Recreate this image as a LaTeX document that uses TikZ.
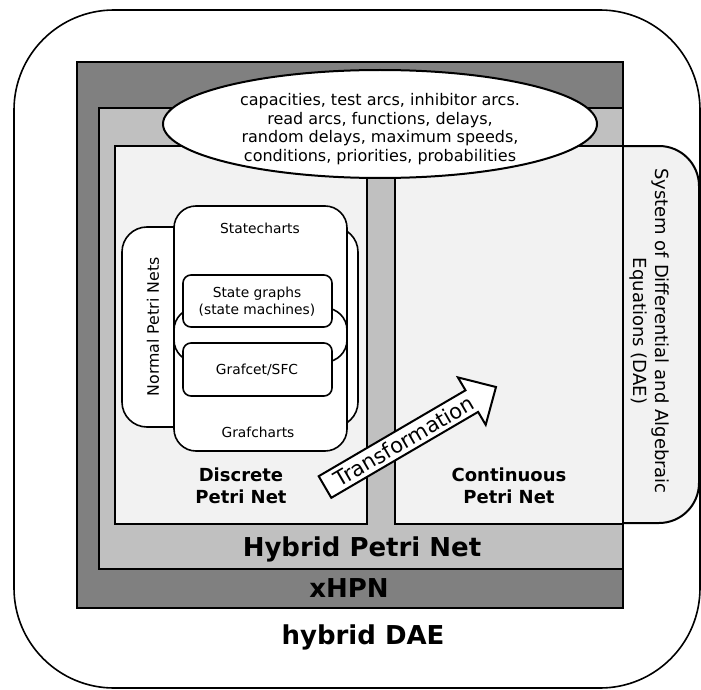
\documentclass[tikz,border=0pt]{standalone}
\usepackage{fontspec}
\setmainfont{DejaVu Sans}
\usetikzlibrary{shapes.geometric}
\definecolor{darkband}{HTML}{808080}
\definecolor{midband}{HTML}{C0C0C0}
\definecolor{paleband}{HTML}{F2F2F2}
\tikzset{
  frame/.style={draw=black, line width=2pt},
  band/.style={frame, line join=miter},
  setbox/.style={draw=black, line width=1.6pt, fill=white},
  biglabel/.style={font=\bfseries\fontsize{26}{30}\selectfont, inner sep=0pt},
  netlabel/.style={font=\bfseries\fontsize{18}{22}\selectfont, align=center, inner sep=0pt},
  small/.style={font=\fontsize{13.8}{17}\selectfont, align=center, inner sep=0pt},
}
\begin{document}
\begin{tikzpicture}[x=1pt, y=-1pt]
\useasboundingbox (0,0) rectangle (701,690);

% outermost hybrid DAE frame
\draw[line width=1.6pt, rounded corners=100pt] (14,10) rectangle (700,688);
\node[biglabel] (hdae) at (363,637) {hybrid DAE};

% xHPN and Hybrid Petri Net bands
\fill[darkband] (77,62) rectangle (623,608);
\draw[band] (77,62) rectangle (623,608);
\fill[midband] (99,108) rectangle (623,569);
\draw[band] (99,108) rectangle (623,569);
\node[biglabel] (xhpn) at (349,588) {xHPN};
\node[biglabel] (hpn) at (362,549) {Hybrid Petri Net};

% DAE system box behind the continuous net
\draw[frame, fill=paleband, rounded corners=40pt]
  (560,146) -- (699,146) -- (699,523) -- (560,523);
\node[font=\fontsize{18}{22}\selectfont, align=center, rotate=-90, inner sep=0pt]
  (dae) at (649,331) {System of Differential and Algebraic\\Equations (DAE)};

% discrete and continuous nets
\draw[frame, fill=paleband] (115,146) rectangle (367,524);
\draw[frame, fill=paleband] (395,146) rectangle (623,524);
\node[netlabel] (disc) at (241,486) {Discrete\\Petri Net};
\node[netlabel] (cont) at (509,486) {Continuous\\Petri Net};

% extensions ellipse
\node[ellipse, draw=black, line width=2pt, fill=white,
      minimum width=434pt, minimum height=108pt, inner sep=0pt] (ext) at (380,124) {};
\node[font=\fontsize{16}{18.5}\selectfont, align=center, inner sep=0pt] (exttext) at (380,129)
  {capacities, test arcs, inhibitor arcs.\\read arcs, functions, delays,\\random delays, maximum speeds,\\conditions, priorities, probabilities};

% nested model classes
\draw[setbox, rounded corners=25pt] (122,227) rectangle (358,427);
\node[font=\fontsize{15.8}{18}\selectfont, rotate=90, inner sep=0pt] (normal) at (153,327) {Normal Petri Nets};

\fill[white, rounded corners=22pt] (174,206) rectangle (347,362);
\fill[white, rounded corners=22pt] (174,308) rectangle (347,451);
\draw[line width=1.6pt, rounded corners=22pt] (174,206) rectangle (347,362);
\draw[line width=1.6pt, rounded corners=22pt] (174,308) rectangle (347,451);
\node[small] (statecharts) at (260,228) {Statecharts};
\node[small] (grafcharts) at (258,432) {Grafcharts};

\draw[setbox, rounded corners=8pt] (183,275) rectangle (332,327);
\node[small] (stategraphs) at (257,302) {State graphs\\(state machines)};
\draw[setbox, rounded corners=8pt] (183,343) rectangle (332,396);
\node[small] (grafcet) at (257,370) {Grafcet/SFC};

% transformation block arrow
\coordinate (tailA) at (318.7,476.2);
\coordinate (tailB) at (331.3,497.8);
\coordinate (shaftA) at (465.5,390.3);
\coordinate (barbA) at (457.9,377.4);
\coordinate (tip) at (496,387);
\coordinate (barbB) at (485.7,424.8);
\coordinate (shaftB) at (478.1,411.9);
\draw[line width=2pt, fill=white, line join=miter]
  (tailA) -- (shaftA) -- (barbA) -- (tip) -- (barbB) -- (shaftB) -- (tailB) -- cycle;
\node[font=\fontsize{21}{24}\selectfont, rotate=30.3, inner sep=0pt] (transf) at (404,441) {Transformation};
\end{tikzpicture}
\end{document}
